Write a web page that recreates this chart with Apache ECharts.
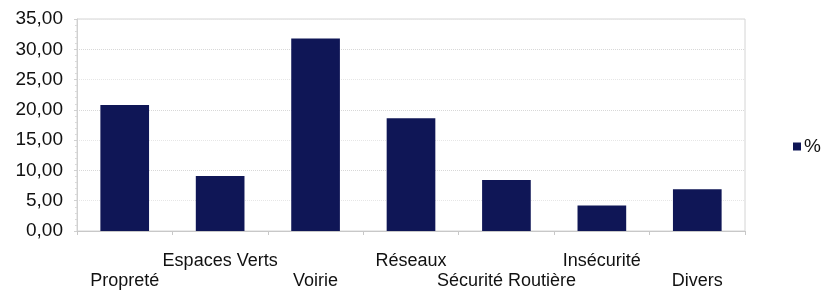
<!DOCTYPE html>
<html>
<head>
<meta charset="utf-8">
<script src="https://cdn.jsdelivr.net/npm/echarts@6/dist/echarts.min.js"></script>
<style>
html,body{margin:0;padding:0;background:#fff;}
#chart{width:821px;height:294px;}
</style>
</head>
<body>
<div id="chart"></div>
<script>
/*catégories et valeurs (%)*/
var categories = ['Propreté', 'Espaces Verts', 'Voirie', 'Réseaux', 'Sécurité Routière', 'Insécurité', 'Divers'];
var percents = [20.8, 9.1, 31.8, 18.6, 8.4, 4.2, 6.9];
var seriesName = '%';

var chart = echarts.init(document.getElementById('chart'));
var option = {
	animation : false,
	backgroundColor : '#fff',
	color : [ '#0f1656' ],
	legend : {
		data : [ seriesName ],
		left : 793,
		top : 137,
		icon : 'rect',
		itemWidth : 8,
		itemHeight : 8,
		itemGap : 4,
		padding : 0,
		textStyle : {
			fontFamily : 'Liberation Sans',
			fontSize : 19,
			color : '#111',
			padding : [0, 0, 0, -2]
		}
	},
	grid : {
		left : 77,
		right : 76,
		top : 19,
		bottom : 63,
		show : true,
		borderColor : '#d4d4d4',
		borderWidth : 1
	},
	xAxis : {
		type : 'category',
		data : categories,
		axisLine : { lineStyle : { color : '#c8c8c8' } },
		axisTick : { show : true, length : 4, lineStyle : { color : '#c8c8c8' } },
		axisLabel : {
			interval : 0,
			margin : 20,
			fontFamily : 'Liberation Sans',
			fontSize : 18,
			lineHeight : 20,
			color : '#111',
			formatter : function(value, index){
				//une étiquette sur deux en dessous
				return index % 2 == 0 ? '\n' + value : value;
			}
		}
	},
	yAxis : {
		type : 'value',
		min : 0,
		max : 35,
		interval : 5,
		axisLine : { show : true, lineStyle : { color : '#d0d0d0' } },
		axisTick : { show : true, length : 3, lineStyle : { color : '#d0d0d0' } },
		minorTick : { show : true, splitNumber : 5, length : 2, lineStyle : { color : '#dadada' } },
		axisLabel : {
			margin : 14,
			fontFamily : 'Liberation Sans',
			fontSize : 19,
			color : '#111',
			formatter : function(value){
				return value.toFixed(2).replace('.', ',');
			}
		},
		splitLine : {
			lineStyle : {
				color : [ '#d8d8d8', '#e6e6e6' ],
				type : 'dotted',
				width : 1
			}
		}
	},
	series : [ {
		name : seriesName,
		type : 'bar',
		data : percents,
		barWidth : '51%'
	} ]
};
chart.setOption(option);
</script>
</body>
</html>
